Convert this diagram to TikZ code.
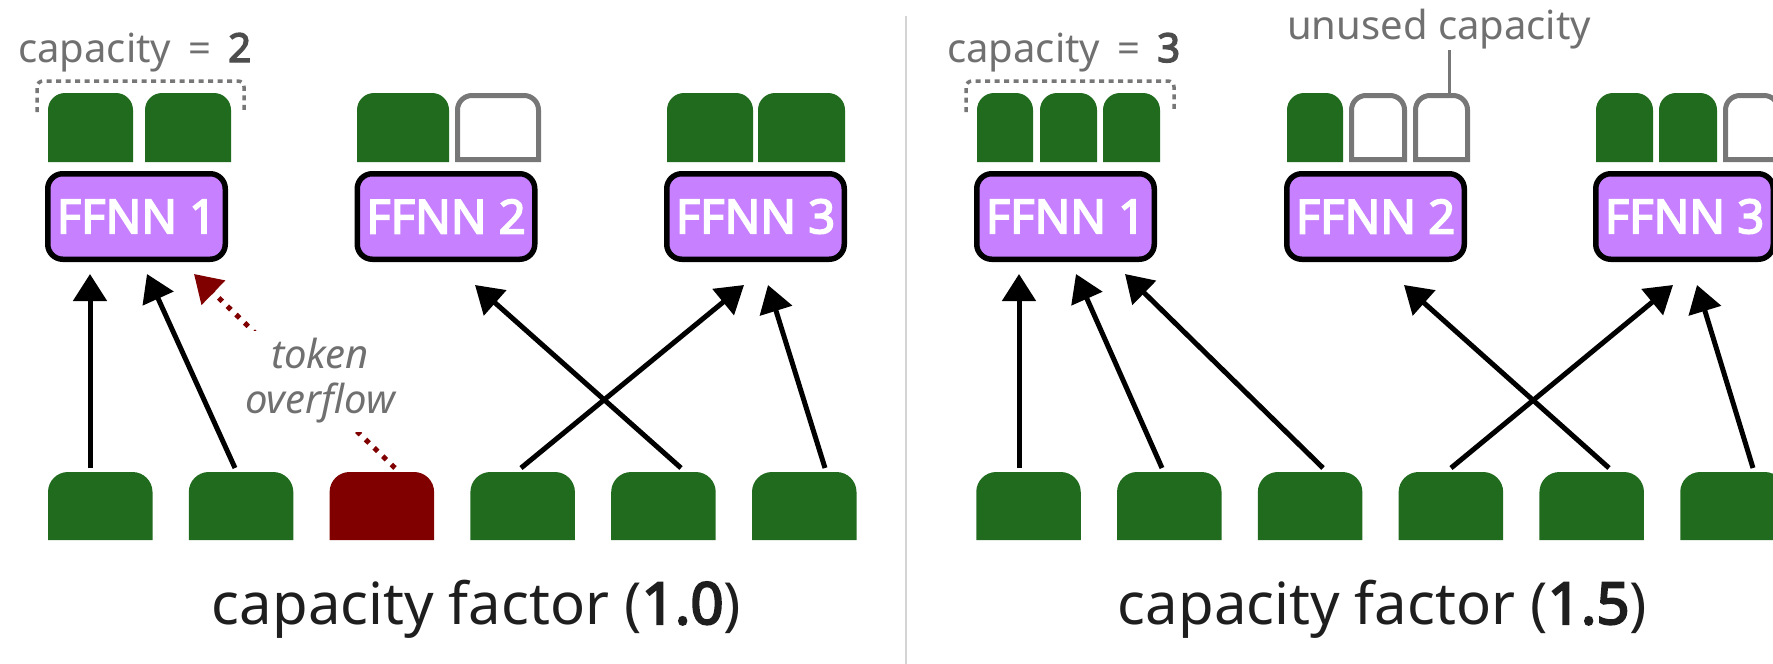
\documentclass[tikz,border=0pt]{standalone}
\usepackage{fontspec}
\setmainfont{Noto Sans}[BoldFont={Noto Sans}, BoldFeatures={FakeBold=3.5}]
\usetikzlibrary{arrows.meta}

\definecolor{tokgreen}{RGB}{32,107,30}
\definecolor{ovred}{RGB}{128,0,0}
\definecolor{ffpurple}{RGB}{199,128,255}
\definecolor{labgray}{RGB}{112,112,112}
\definecolor{digitgray}{RGB}{77,77,77}
\definecolor{slotgray}{RGB}{119,119,119}
\definecolor{sepgray}{RGB}{212,212,212}
\definecolor{captext}{RGB}{30,30,30}

% outline of a slot / token: square bottom, rounded top corners
\newcommand{\tabpath}[2]{(#1.south west) -- ([yshift=-#2pt]#1.north west)
  arc[start angle=180,end angle=90,radius=#2pt] -- ([xshift=-#2pt]#1.north east)
  arc[start angle=90,end angle=0,radius=#2pt] -- (#1.south east) -- cycle}

\tikzset{
  cell/.style={rectangle, inner sep=0pt, outer sep=0pt, draw=none},
  ffnn/.style={draw=black, line width=5.5pt, fill=ffpurple, rounded corners=15pt,
    minimum width=177.5pt, minimum height=85.5pt, inner sep=0pt, text=white,
    font=\fontsize{47}{50}\selectfont\bfseries},
  lbl/.style={font=\fontsize{40}{45}\selectfont, text=labgray, inner sep=0pt},
  caption/.style={font=\fontsize{58}{64}\selectfont, text=captext, inner sep=0pt},
  route/.style={draw=black, line width=5pt, -{Triangle[length=27pt,width=33pt]}},
  overflow/.style={draw=ovred, line width=5pt, dash pattern=on 5pt off 7pt,
    -{Triangle[length=27pt,width=33pt]}},
  emptyslot/.style={draw=slotgray, line width=5pt},
  bracket/.style={draw=slotgray, line width=3.5pt, dash pattern=on 5pt off 4.5pt,
    rounded corners=6pt},
  leader/.style={draw=slotgray, line width=3pt},
  sepline/.style={draw=sepgray, line width=2pt},
}

\begin{document}
\begin{tikzpicture}[x=1pt,y=1pt]
\useasboundingbox (0,0) rectangle (1773,-664);
\clip (0,0) rectangle (1773,-664);

% panel separator
\draw[sepline] (906,-16) -- (906,-664);

% ---------- experts ----------
\node[ffnn] (F1) at (136.5,-216.5) {FFNN 1};
\node[ffnn] (F2) at (446,-216.5) {FFNN 2};
\node[ffnn] (F3) at (755.5,-216.5) {FFNN 3};
\node[ffnn] (G1) at (1065.5,-216.5) {FFNN 1};
\node[ffnn] (G2) at (1375.5,-216.5) {FFNN 2};
\node[ffnn] (G3) at (1684.5,-216.5) {FFNN 3};

% ---------- filled capacity slots ----------
\foreach \n/\cx/\w in {a1/90.5/85, a2/188/86, b1/403/92, c1/710/86, c2/801.5/87,
    d1/1005/56, d2/1068.5/57, d3/1131.5/57, e1/1315/56, f1/1624.5/57, f2/1688/58}{
  \node[cell, minimum width=\w pt, minimum height=69pt] (\n) at (\cx,-127.5) {};
  \fill[tokgreen] \tabpath{\n}{17};
}
% ---------- unused capacity slots ----------
\foreach \n/\cx/\w in {b2/498/81, e2/1378/53, e3/1441.5/52, f3/1752/53}{
  \node[cell, minimum width=\w pt, minimum height=64pt] (\n) at (\cx,-127.5) {};
  \draw[emptyslot] \tabpath{\n}{14.5};
}

% capacity brackets
\draw[bracket] (37,-112) -- (37,-81) -- (244,-81) -- (244,-112);
\draw[bracket] (966,-112) -- (966,-81) -- (1174,-81) -- (1174,-112);

% capacity labels
\node[lbl, anchor=base west] (cap2) at (18,-62)
  {capacity \,=\, \textcolor{digitgray}{\bfseries 2}};
\node[lbl, anchor=base west] (cap3) at (947,-62)
  {capacity \,=\, \textcolor{digitgray}{\bfseries 3}};
\node[lbl, anchor=base west] (uc) at (1287,-39) {unused capacity};
\coordinate (lt) at (1449,-50);
\draw[leader] (lt) -- (lt |- e3.north);

% ---------- tokens ----------
\foreach \i/\cx/\c in {1/100.25/tokgreen, 2/241.05/tokgreen, 3/381.85/ovred,
    4/522.65/tokgreen, 5/663.45/tokgreen, 6/804.25/tokgreen}{
  \node[cell, minimum width=104.5pt, minimum height=68pt] (L\i) at (\cx,-506) {};
  \fill[\c] \tabpath{L\i}{20};
}
\foreach \i/\cx in {1/1028.5, 2/1169.3, 3/1310.1, 4/1450.9, 5/1591.7, 6/1732.5}{
  \node[cell, minimum width=104.5pt, minimum height=68pt] (R\i) at (\cx,-506) {};
  \fill[tokgreen] \tabpath{R\i}{20};
}

% ---------- routing (capacity factor 1.0) ----------
\draw[overflow] ([shift={(13.15,4)}]L3.north) -- ([shift={(57.5,-12)}]F1.south);
\node[lbl, font=\fontsize{40}{45}\selectfont\itshape, fill=white, inner sep=8pt,
  align=center] (ovl) at (320,-381) {token\\overflow};
\draw[route] ([shift={(-10.25,4)}]L1.north) -- ([shift={(-46.5,-12)}]F1.south);
\draw[route] ([shift={(-6.05,4)}]L2.north) -- ([shift={(10.5,-12)}]F1.south);
\draw[route] ([shift={(17.55,4)}]L5.north) -- ([shift={(29,-23)}]F2.south);
\draw[route] ([shift={(-1.65,4)}]L4.north) -- ([shift={(-11.5,-23)}]F3.south);
\draw[route] ([shift={(20.75,4)}]L6.north) -- ([shift={(12.5,-23)}]F3.south);

% ---------- routing (capacity factor 1.5) ----------
\draw[route] ([shift={(-9.5,4)}]R1.north) -- ([shift={(-46.5,-12)}]G1.south);
\draw[route] ([shift={(-7.3,4)}]R2.north) -- ([shift={(10.5,-12)}]G1.south);
\draw[route] ([shift={(12.9,4)}]R3.north) -- ([shift={(59.5,-12)}]G1.south);
\draw[route] ([shift={(17.3,4)}]R5.north) -- ([shift={(28.5,-23)}]G2.south);
\draw[route] ([shift={(0.1,4)}]R4.north) -- ([shift={(-11.5,-23)}]G3.south);
\draw[route] ([shift={(20.5,4)}]R6.north) -- ([shift={(12.5,-23)}]G3.south);

% ---------- captions ----------
\node[caption, anchor=base] (cf1) at (476.5,-624) {capacity factor (\textbf{1.0})};
\node[caption, anchor=base] (cf2) at (1382.5,-624) {capacity factor (\textbf{1.5})};
\end{tikzpicture}
\end{document}
